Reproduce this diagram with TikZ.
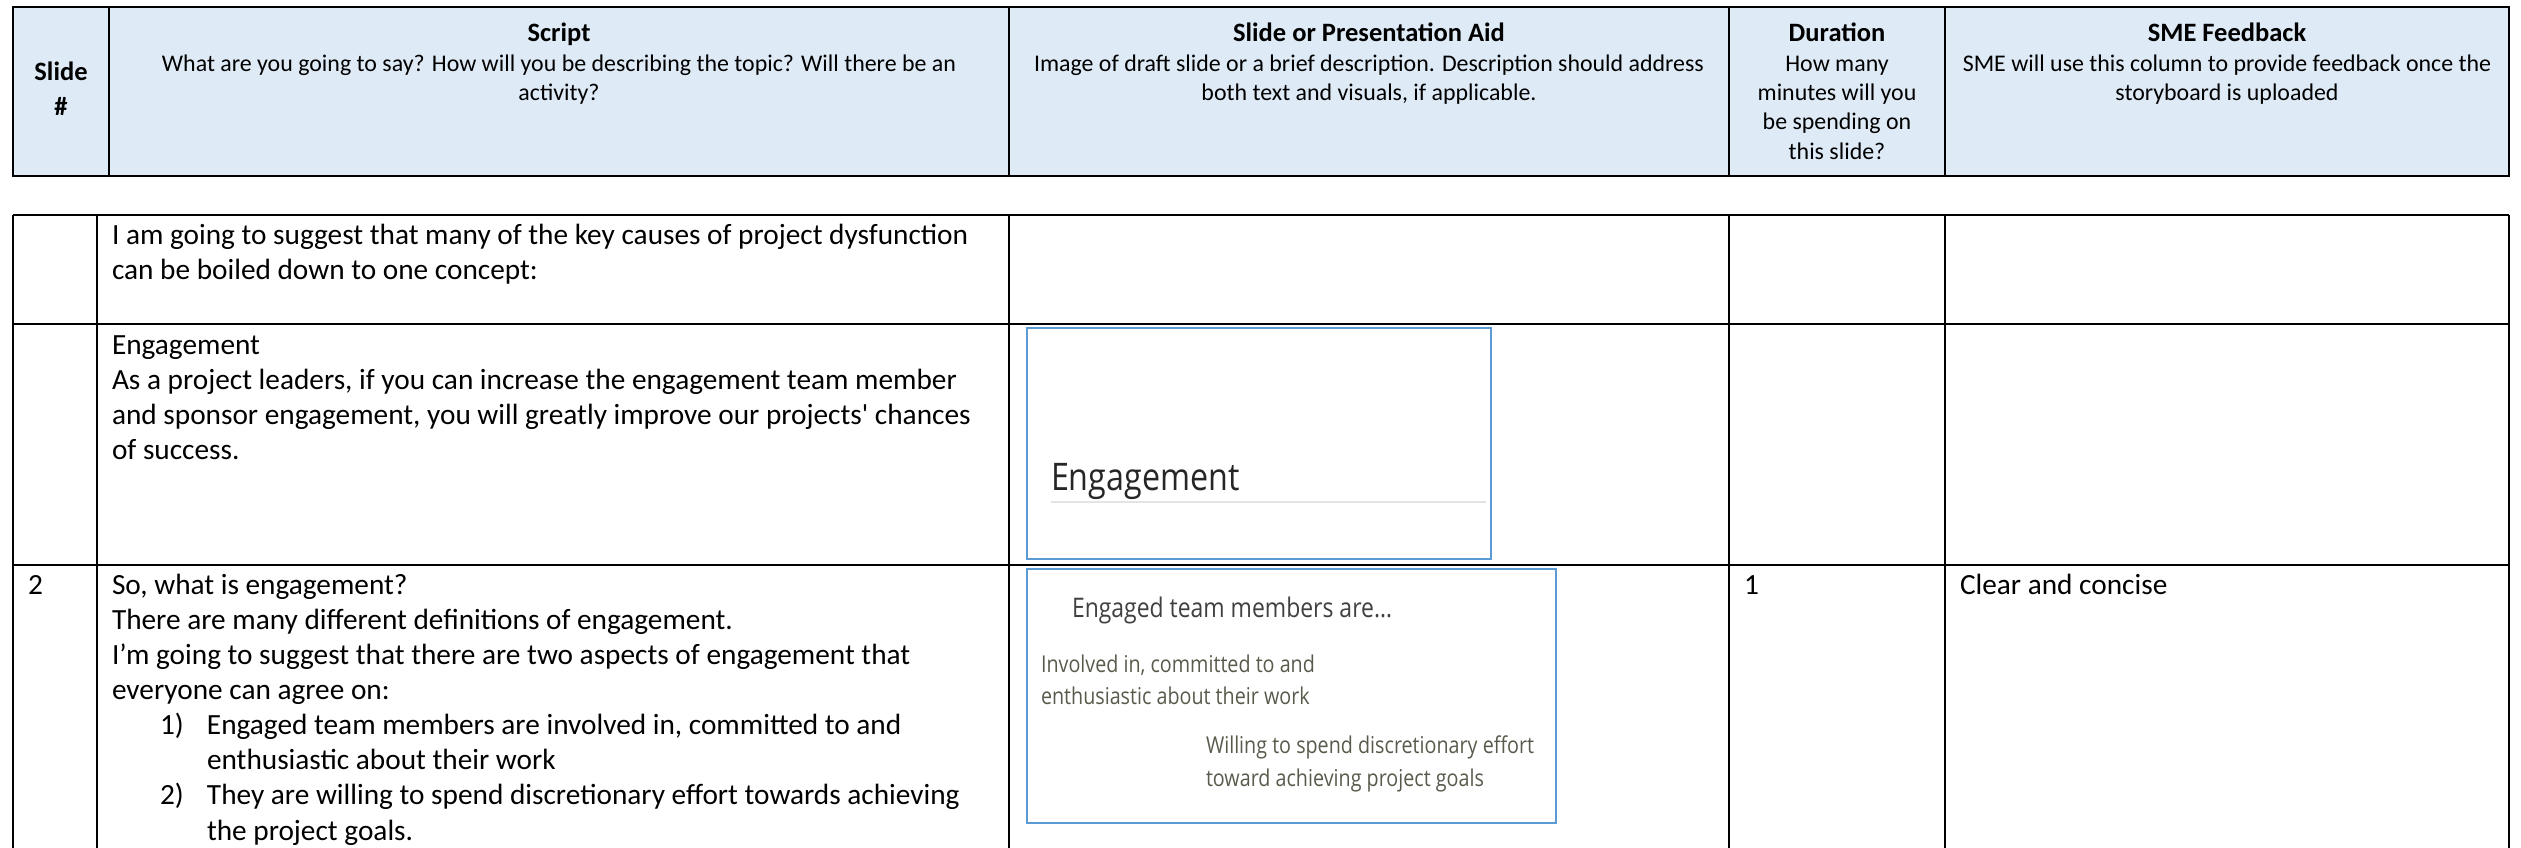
\documentclass[tikz,border=0pt]{standalone}
\usepackage{fontspec}
\usepackage{graphicx}
\setmainfont{Carlito}
\newfontfamily\slidefont{Open Sans}
\definecolor{hdrfill}{HTML}{DEEAF6}
\definecolor{picblue}{HTML}{5B9BD5}
\definecolor{slidedark}{HTML}{262626}
\definecolor{slidetitle}{HTML}{404040}
\definecolor{slidebody}{HTML}{5A5A4C}
\definecolor{slidegrey}{HTML}{E4E4E4}
\newcommand\fls[1]{\rule{0pt}{#1pt}}
\newcommand\nrw[1]{\scalebox{0.85}[1]{#1}}
\begin{document}
\begin{tikzpicture}[x=1pt,y=-1pt,
  gridline/.style={line width=2pt, black},
  hdivline/.style={line width=1.4pt, black},
  picframe/.style={line width=2pt, draw=picblue},
  bodytxt/.style={inner sep=0pt, outer sep=0pt, anchor=north west, yshift=28pt, align=left,
    font=\fontsize{29.3}{35.15}\selectfont},
  celltxt/.style={inner sep=0pt, outer sep=0pt, anchor=base west,
    font=\fontsize{29.3}{35.15}\selectfont},
  htitle/.style={inner sep=0pt, outer sep=0pt, anchor=base,
    font=\bfseries\fontsize{26.5}{35.5}\selectfont},
  hdesc/.style={inner sep=0pt, outer sep=0pt, anchor=north, yshift=22pt, align=center,
    font=\fontsize{23.9}{29.2}\selectfont},
  slidetxt/.style={inner sep=0pt, outer sep=0pt, anchor=base west, font=\slidefont}
]
\useasboundingbox (0,0) rectangle (2521,848);
\clip (0,0) rectangle (2521,848);

% ---------- header ----------
\draw[gridline, fill=hdrfill] (13,7) rectangle (2509,176);
\foreach \xx in {109,1009,1729,1945} \draw[hdivline] (\xx,7) -- (\xx,176);

\node[inner sep=0pt, outer sep=0pt, anchor=north, yshift=26pt, align=center,
  font=\bfseries\fontsize{26.5}{35.5}\selectfont] (hslide) at (61,80.5) {\fls{26}Slide\\\#};

\node[htitle] (hscript) at (559,41.5) {Script};
\node[hdesc] (hscriptd) at (559,71.4) {\fls{22}What are you going to say? How will you be describing the topic? Will there be an\\activity?};

\node[htitle] (haid) at (1369,41.5) {Slide or Presentation Aid};
\node[hdesc] (haidd) at (1369,71.4) {\fls{22}Image of draft slide or a brief description. Description should address\\both text and visuals, if applicable.};

\node[htitle] (hdur) at (1837,41.5) {Duration};
\node[hdesc] (hdurd) at (1837,71.4) {\fls{22}How many\\minutes will you\\be spending on\\this slide?};

\node[htitle] (hsme) at (2227,41.5) {SME Feedback};
\node[hdesc] (hsmed) at (2227,71.4) {\fls{22}SME will use this column to provide feedback once the\\storyboard is uploaded};

% ---------- body grid ----------
\draw[gridline] (13,215) -- (2509,215);
\draw[gridline] (13,323.5) -- (2509,323.5);
\draw[gridline] (13,565) -- (2509,565);
\foreach \xx in {13,97,1009,1729,1945,2509} \draw[gridline] (\xx,215) -- (\xx,860);

% ---------- row 1 ----------
\node[bodytxt] (r1script) at (112,244.5) {\fls{28}I am going to suggest that many of the key causes of project dysfunction\\can be boiled down to one concept:};

% ---------- row 2 ----------
\node[bodytxt] (r2script) at (112,354) {\fls{28}Engagement\\As a project leaders, if you can increase the engagement team member\\and sponsor engagement, you will greatly improve our projects\textquotesingle{} chances\\of success.};

\draw[picframe] (1027,328) rectangle (1491,559);
\draw[slidegrey, line width=2.5pt] (1051,502) -- (1486,502);
\node[slidetxt, text=slidedark, font=\slidefont\fontsize{38}{40}\selectfont] (s1title) at (1051,490) {\nrw{Engagement}};

% ---------- row 3 ----------
\node[celltxt] (r3num) at (28,594) {2};
\node[bodytxt] (r3script) at (112,594) {\fls{28}So, what is engagement?\\
There are many different definitions of engagement.\\
I’m going to suggest that there are two aspects of engagement that\\
everyone can agree on:\\
\hspace*{48pt}\makebox[47pt][l]{1)}Engaged team members are involved in, committed to and\\
\hspace*{95pt}enthusiastic about their work\\
\hspace*{48pt}\makebox[47pt][l]{2)}They are willing to spend discretionary effort towards achieving\\
\hspace*{95pt}the project goals.};

\draw[picframe] (1027,569) rectangle (1556,823);
\node[slidetxt, text=slidetitle, font=\slidefont\fontsize{27}{30}\selectfont] (s2title) at (1072,617.5) {\nrw{Engaged team members are…}};
\node[slidetxt, text=slidebody, font=\slidefont\fontsize{23.2}{26}\selectfont] (s2a1) at (1041,672) {\nrw{Involved in, committed to and}};
\node[slidetxt, text=slidebody, font=\slidefont\fontsize{23.2}{26}\selectfont] (s2a2) at (1041,704) {\nrw{enthusiastic about their work}};
\node[slidetxt, text=slidebody, font=\slidefont\fontsize{23.2}{26}\selectfont] (s2b1) at (1206,753.5) {\nrw{Willing to spend discretionary effort}};
\node[slidetxt, text=slidebody, font=\slidefont\fontsize{23.2}{26}\selectfont] (s2b2) at (1206,786) {\nrw{toward achieving project goals}};

\node[celltxt] (r3dur) at (1744,594) {1};
\node[celltxt] (r3sme) at (1960,594) {Clear and concise};
\end{tikzpicture}
\end{document}
